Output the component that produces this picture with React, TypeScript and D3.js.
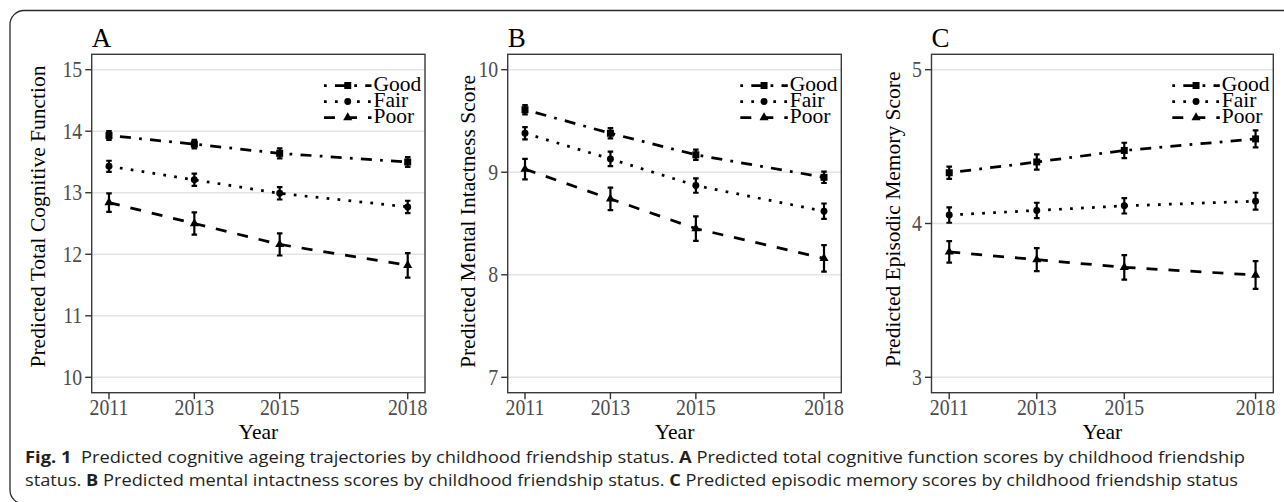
import React from "react";
import * as d3 from "d3";

// ---------- data ----------
const years = [2011, 2013, 2015, 2018];
const groups = ["Good", "Fair", "Poor"];
const panelLetters = ["A", "B", "C"];
const yTitles = [
  "Predicted Total Cognitive Function",
  "Predicted Mental Intactness Score",
  "Predicted Episodic Memory Score",
];
const yTicksA = [10, 11, 12, 13, 14, 15];
const yTicksB = [7, 8, 9, 10];
const yTicksC = [3, 4, 5];

// Panel A: total cognitive function
const totalGood = [13.93, 13.79, 13.64, 13.5];
const totalGoodErr = [0.07, 0.07, 0.08, 0.08];
const totalFair = [13.43, 13.21, 12.99, 12.77];
const totalFairErr = [0.09, 0.1, 0.1, 0.1];
const totalPoor = [12.84, 12.5, 12.16, 11.82];
const totalPoorErr = [0.15, 0.18, 0.18, 0.2];

// Panel B: mental intactness
const mentalGood = [9.61, 9.38, 9.17, 8.95];
const mentalGoodErr = [0.045, 0.05, 0.05, 0.055];
const mentalFair = [9.38, 9.13, 8.87, 8.62];
const mentalFairErr = [0.06, 0.07, 0.07, 0.075];
const mentalPoor = [9.03, 8.74, 8.45, 8.16];
const mentalPoorErr = [0.1, 0.11, 0.12, 0.13];

// Panel C: episodic memory
const memoryGood = [4.33, 4.4, 4.475, 4.55];
const memoryGoodErr = [0.04, 0.05, 0.05, 0.055];
const memoryFair = [4.055, 4.085, 4.115, 4.145];
const memoryFairErr = [0.05, 0.05, 0.05, 0.055];
const memoryPoor = [3.815, 3.765, 3.715, 3.665];
const memoryPoorErr = [0.07, 0.075, 0.08, 0.09];

const captionLine1 = [
  { t: "Fig. 1", b: true },
  { t: "\u00a0\u00a0Predicted cognitive ageing trajectories by childhood friendship status. ", b: false },
  { t: "A", b: true },
  { t: " Predicted total cognitive function scores by childhood friendship", b: false },
];
const captionLine2 = [
  { t: "status. ", b: false },
  { t: "B", b: true },
  { t: " Predicted mental intactness scores by childhood friendship status. ", b: false },
  { t: "C", b: true },
  { t: " Predicted episodic memory scores by childhood friendship status", b: false },
];

// ---------- layout / style ----------
const W = 1284;
const H = 502;
const TOP = 54.3;
const BOTTOM = 392.7;
const panelBoxes = [
  { x0: 91.7, x1: 425 },
  { x0: 507.7, x1: 841.3 },
  { x0: 931.5, x1: 1273.3 },
];
const serif = "'Liberation Serif', 'Times New Roman', serif";
const sans = "'Open Sans', 'Noto Sans', sans-serif";
const dashes: Record<string, string> = {
  Good: "2.75 8.25 11 8.25",
  Fair: "2.75 8.25",
  Poor: "11 11",
};
const symbolTypes: Record<string, any> = {
  Good: d3.symbolSquare,
  Fair: d3.symbolCircle,
  Poor: d3.symbolTriangle,
};
const symbolSizes: Record<string, number> = { Good: 49, Fair: 38, Poor: 36 };

const panels = [
  {
    ticks: yTicksA,
    series: [
      { v: totalGood, e: totalGoodErr },
      { v: totalFair, e: totalFairErr },
      { v: totalPoor, e: totalPoorErr },
    ],
    titleY: 367.5,
    titleX: 45,
  },
  {
    ticks: yTicksB,
    series: [
      { v: mentalGood, e: mentalGoodErr },
      { v: mentalFair, e: mentalFairErr },
      { v: mentalPoor, e: mentalPoorErr },
    ],
    titleY: 368,
    titleX: 474.5,
  },
  {
    ticks: yTicksC,
    series: [
      { v: memoryGood, e: memoryGoodErr },
      { v: memoryFair, e: memoryFairErr },
      { v: memoryPoor, e: memoryPoorErr },
    ],
    titleY: 367,
    titleX: 899.5,
  },
];

function TickText({ x, y, anchor, children }: { x: number; y: number; anchor: string; children: any }) {
  return (
    <g transform={`translate(${x},${y}) scale(0.88,1)`}>
      <text x={0} y={0} textAnchor={anchor} fontFamily={serif} fontSize={22.5} fill="#4D4D4D">
        {children}
      </text>
    </g>
  );
}

function Panel({ idx }: { idx: number }) {
  const p = panels[idx];
  const box = panelBoxes[idx];
  const capHalf = 0.065;
  const xlo = d3.min(years)! - 0.05;
  const xhi = d3.max(years)! + 0.05;
  const xr = xhi - xlo;
  const x = d3.scaleLinear().domain([xlo - 0.05 * xr, xhi + 0.05 * xr]).range([box.x0, box.x1]);
  const [ylo, yhi] = d3.extent(p.ticks) as [number, number];
  const yr = yhi - ylo;
  const y = d3.scaleLinear().domain([ylo - 0.05 * yr, yhi + 0.05 * yr]).range([BOTTOM, TOP]);
  const line = d3
    .line<number>()
    .x((_, i) => x(years[i]))
    .y((d) => y(d));
  const cx = (box.x0 + box.x1) / 2;
  const keyRight = box.x1 - 53.5;
  const keyLeft = box.x1 - 101;
  const textX = box.x1 - 51.5;
  const rowY = [85.5, 101.5, 117.5];

  return (
    <g>
      {/* panel letter */}
      <text x={box.x0} y={46.7} fontFamily={serif} fontSize={27} fill="#000">
        {panelLetters[idx]}
      </text>
      {/* grid */}
      {p.ticks.map((t) => (
        <line key={"g" + t} x1={box.x0} x2={box.x1} y1={y(t)} y2={y(t)} stroke="#E4E4E4" strokeWidth={1.6} />
      ))}
      {/* series */}
      {p.series.map((s, si) => {
        const g = groups[si];
        const sym = d3.symbol().type(symbolTypes[g]).size(symbolSizes[g])()!;
        return (
          <g key={g}>
            <path d={line(s.v)!} fill="none" stroke="#000" strokeWidth={2.75} strokeDasharray={dashes[g]} />
            {s.v.map((v, i) => (
              <path key={"m" + i} d={sym} transform={`translate(${x(years[i])},${y(v)})`} fill="#000" />
            ))}
            {s.v.map((v, i) => {
              const xx = x(years[i]);
              const a = y(v + s.e[i]);
              const b = y(v - s.e[i]);
              const c0 = x(years[i] - capHalf);
              const c1 = x(years[i] + capHalf);
              return (
                <path
                  key={"e" + i}
                  d={`M${c0},${a}H${c1}M${xx},${a}V${b}M${c0},${b}H${c1}`}
                  fill="none"
                  stroke="#000"
                  strokeWidth={2.2}
                />
              );
            })}
          </g>
        );
      })}
      {/* panel border */}
      <rect x={box.x0} y={TOP} width={box.x1 - box.x0} height={BOTTOM - TOP} fill="none" stroke="#3a3a3a" strokeWidth={1.4} />
      {/* y axis ticks */}
      {p.ticks.map((t) => (
        <g key={"yt" + t}>
          <line x1={box.x0 - 6.5} x2={box.x0} y1={y(t)} y2={y(t)} stroke="#333" strokeWidth={1.4} />
          <TickText x={box.x0 - 9.5} y={y(t) + 7.6} anchor="end">
            {t}
          </TickText>
        </g>
      ))}
      {/* x axis ticks */}
      {years.map((yv) => (
        <g key={"xt" + yv}>
          <line x1={x(yv)} x2={x(yv)} y1={BOTTOM} y2={BOTTOM + 6.5} stroke="#333" strokeWidth={1.4} />
          <TickText x={x(yv)} y={415} anchor="middle">
            {yv}
          </TickText>
        </g>
      ))}
      {/* axis titles */}
      <text x={cx} y={439} textAnchor="middle" fontFamily={serif} fontSize={21.5} fill="#000">
        Year
      </text>
      <text
        transform={`translate(${p.titleX},${p.titleY}) rotate(-90)`}
        textAnchor="start"
        fontFamily={serif}
        fontSize={21.5}
        fill="#000"
      >
        {yTitles[idx]}
      </text>
      {/* legend */}
      {groups.map((g, gi) => {
        const sym = d3.symbol().type(symbolTypes[g]).size(symbolSizes[g])()!;
        const ry = rowY[gi];
        return (
          <g key={"lg" + g}>
            <line x1={keyLeft} x2={keyRight} y1={ry} y2={ry} stroke="#000" strokeWidth={2.75} strokeDasharray={dashes[g]} />
            <path d={sym} transform={`translate(${(keyLeft + keyRight) / 2},${ry})`} fill="#000" />
            <text x={textX} y={ry + 5.5} fontFamily={serif} fontSize={21.5} fill="#000">
              {g}
            </text>
          </g>
        );
      })}
    </g>
  );
}

export default function App() {
  return (
    <svg
      width={W}
      height={H}
      viewBox={`0 0 ${W} ${H}`}
      style={{ position: "absolute", left: 0, top: 0, display: "block", background: "#fff" }}
    >
      <rect x={0} y={0} width={W} height={H} fill="#fff" />
      <path
        d={`M${W + 2},10.5 H24 A14 14 0 0 0 10 24.5 V490 A14 14 0 0 0 24 504`}
        fill="none"
        stroke="#2a2a2a"
        strokeWidth={1.3}
      />
      {panels.map((_, i) => (
        <Panel key={i} idx={i} />
      ))}
      <text x={25} y={462.5} fontFamily={sans} fontSize={16.5} fill="#231f20" textLength={1220} lengthAdjust="spacingAndGlyphs">
        {captionLine1.map((s, i) => (
          <tspan key={i} fontWeight={s.b ? 700 : 400}>
            {s.t}
          </tspan>
        ))}
      </text>
      <text x={25} y={486} fontFamily={sans} fontSize={16.5} fill="#231f20" textLength={1213} lengthAdjust="spacingAndGlyphs">
        {captionLine2.map((s, i) => (
          <tspan key={i} fontWeight={s.b ? 700 : 400}>
            {s.t}
          </tspan>
        ))}
      </text>
    </svg>
  );
}
